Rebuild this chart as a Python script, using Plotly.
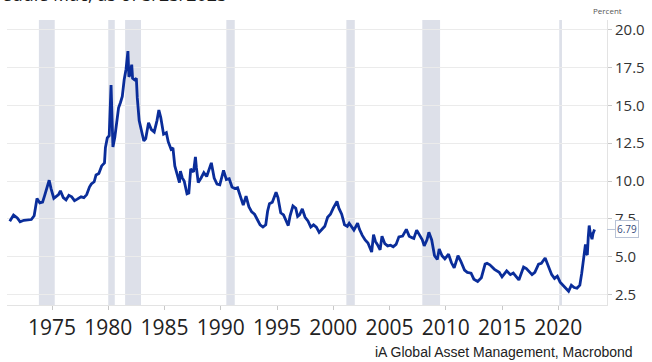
import plotly.graph_objects as go

# 30-year fixed mortgage rate (percent), read as dated observations
dates = [
    "1971-04", "1971-08", "1971-12", "1972-03", "1972-07", "1972-12", "1973-03", "1973-06",
    "1973-08", "1973-09", "1973-12", "1974-03", "1974-05", "1974-08", "1974-10", "1974-12",
    "1975-03", "1975-05", "1975-08", "1975-10", "1976-01", "1976-04", "1976-07", "1976-10",
    "1977-01", "1977-04", "1977-08", "1977-11", "1978-02", "1978-05", "1978-07", "1978-10",
    "1978-12", "1979-03", "1979-06", "1979-09", "1979-10", "1979-12", "1980-02", "1980-04",
    "1980-05", "1980-06", "1980-08", "1980-10", "1980-12", "1981-02", "1981-04", "1981-06",
    "1981-08", "1981-10", "1981-11", "1981-12", "1982-02", "1982-03", "1982-05", "1982-07",
    "1982-08", "1982-10", "1982-12", "1983-03", "1983-05", "1983-08", "1983-11", "1984-02",
    "1984-05", "1984-07", "1984-09", "1984-12", "1985-03", "1985-05", "1985-08", "1985-10",
    "1985-12", "1986-03", "1986-05", "1986-06", "1986-08", "1986-10", "1987-01", "1987-03",
    "1987-05", "1987-08", "1987-10", "1987-11", "1988-01", "1988-04", "1988-07", "1988-10",
    "1989-01", "1989-03", "1989-06", "1989-09", "1989-12", "1990-04", "1990-07", "1990-10",
    "1991-01", "1991-04", "1991-07", "1991-10", "1992-01", "1992-04", "1992-07", "1992-10",
    "1993-01", "1993-04", "1993-07", "1993-10", "1994-01", "1994-03", "1994-05", "1994-08",
    "1994-12", "1995-02", "1995-05", "1995-08", "1995-11", "1996-01", "1996-03", "1996-06",
    "1996-09", "1996-11", "1997-01", "1997-04", "1997-07", "1997-10", "1998-01", "1998-04",
    "1998-07", "1998-10", "1999-01", "1999-04", "1999-07", "1999-10", "2000-01", "2000-05",
    "2000-07", "2000-10", "2001-01", "2001-04", "2001-06", "2001-09", "2001-11", "2002-03",
    "2002-05", "2002-08", "2002-11", "2003-02", "2003-06", "2003-08", "2003-10", "2003-12",
    "2004-03", "2004-05", "2004-08", "2004-11", "2005-02", "2005-05", "2005-08", "2005-11",
    "2006-03", "2006-07", "2006-10", "2007-01", "2007-03", "2007-06", "2007-09", "2007-12",
    "2008-02", "2008-05", "2008-07", "2008-10", "2009-01", "2009-04", "2009-06", "2009-09",
    "2009-12", "2010-04", "2010-07", "2010-10", "2011-02", "2011-05", "2011-09", "2011-12",
    "2012-04", "2012-07", "2012-11", "2013-03", "2013-07", "2013-09", "2013-12", "2014-05",
    "2014-10", "2015-01", "2015-06", "2015-10", "2016-01", "2016-07", "2016-12", "2017-03",
    "2017-09", "2017-12", "2018-04", "2018-07", "2018-11", "2019-03", "2019-06", "2019-09",
    "2019-12", "2020-03", "2020-06", "2020-09", "2020-12", "2021-03", "2021-06", "2021-09",
    "2021-12", "2022-02", "2022-04", "2022-06", "2022-07", "2022-08", "2022-09", "2022-10",
    "2022-11", "2022-12", "2023-01", "2023-02", "2023-03-23",
]
rates = [
    7.33, 7.75, 7.55, 7.30, 7.40, 7.42, 7.45, 7.70,
    8.50, 8.85, 8.55, 8.60, 9.00, 9.70, 10.05, 9.50,
    8.85, 8.95, 9.10, 9.35, 8.90, 8.75, 9.05, 8.95,
    8.70, 8.80, 8.95, 8.90, 9.10, 9.60, 9.80, 9.95,
    10.40, 10.50, 11.00, 11.20, 12.20, 12.85, 13.00, 16.35,
    14.50, 12.25, 12.90, 14.00, 14.85, 15.20, 15.60, 16.70,
    17.40, 18.60, 16.90, 17.00, 17.70, 16.80, 16.70, 16.80,
    15.50, 14.00, 13.40, 12.65, 12.80, 13.85, 13.40, 13.25,
    14.00, 14.70, 14.20, 13.10, 13.20, 12.60, 12.10, 12.20,
    11.00, 10.30, 9.90, 10.65, 10.20, 10.00, 9.15, 9.20,
    10.80, 10.60, 11.60, 10.90, 9.90, 10.20, 10.55, 10.30,
    10.90, 11.20, 10.20, 9.80, 9.75, 10.70, 10.10, 10.15,
    9.60, 9.50, 9.55, 8.90, 8.40, 9.00, 8.30, 7.95,
    7.80, 7.45, 7.10, 6.95, 7.10, 8.00, 8.50, 8.60,
    9.25, 8.90, 7.90, 7.75, 7.30, 7.05, 7.70, 8.35,
    8.20, 7.65, 7.75, 8.15, 7.60, 7.35, 6.95, 7.10,
    6.95, 6.60, 6.80, 7.00, 7.60, 7.80, 8.20, 8.65,
    8.20, 7.80, 7.10, 7.00, 7.20, 6.95, 6.75, 7.20,
    6.80, 6.40, 6.10, 5.90, 5.30, 6.45, 6.00, 5.80,
    5.45, 6.35, 5.85, 5.70, 5.75, 5.65, 5.80, 6.30,
    6.35, 6.80, 6.35, 6.25, 6.20, 6.75, 6.40, 6.10,
    5.70, 6.10, 6.60, 6.10, 5.05, 4.80, 5.50, 5.05,
    4.85, 5.15, 4.60, 4.25, 5.05, 4.70, 4.10, 3.95,
    3.90, 3.50, 3.35, 3.60, 4.50, 4.55, 4.45, 4.15,
    3.95, 3.65, 4.05, 3.80, 3.90, 3.45, 4.30, 4.20,
    3.80, 3.95, 4.50, 4.55, 4.90, 4.30, 3.80, 3.55,
    3.70, 3.30, 3.10, 2.90, 2.70, 3.10, 2.95, 2.90,
    3.10, 3.90, 5.00, 5.80, 5.20, 5.10, 6.30, 7.05,
    6.60, 6.30, 6.15, 6.50, 6.79,
]

# US recessions (start, end)
recessions = [
    ("1973-11-01", "1975-03-31"),
    ("1980-01-01", "1980-07-31"),
    ("1981-07-01", "1982-11-30"),
    ("1990-07-01", "1991-03-31"),
    ("2001-03-01", "2001-11-30"),
    ("2007-12-01", "2009-06-30"),
    ("2020-02-01", "2020-04-30"),
]

y_ticks = [2.5, 5.0, 7.5, 10.0, 12.5, 15.0, 17.5, 20.0]
last_label = f"{rates[-1]:.2f}"

line_color = "#0a2d9a"
band_color = "#dde0e9"
grid_color = "#ebebeb"

fig = go.Figure()
fig.add_trace(go.Scatter(
    x=dates, y=rates, mode="lines",
    line=dict(color=line_color, width=2.8),
    hoverinfo="skip", showlegend=False,
))

for start, end in recessions:
    fig.add_shape(
        type="rect", xref="x", yref="paper",
        x0=start, x1=end, y0=0, y1=1,
        fillcolor=band_color, line=dict(width=0), layer="below",
    )

fig.update_layout(
    width=652, height=362,
    margin=dict(l=7, r=37, t=20, b=57),
    paper_bgcolor="white", plot_bgcolor="white",
    showlegend=False,
    xaxis=dict(
        type="date",
        range=["1971-01-01", "2024-05-01"],
        tick0="1975-01-01", dtick="M60", tickformat="%Y",
        showgrid=False, zeroline=False,
        showline=True, linecolor="#e3e3e3", linewidth=1,
        ticks="outside", ticklen=4, tickcolor="#c8c8c8",
        tickfont=dict(family="Open Sans", size=21, color="#222222"),
    ),
    yaxis=dict(
        side="right",
        range=[1.79, 20.66],
        tickvals=y_ticks,
        ticktext=[f"{v:.1f}" for v in y_ticks],
        showgrid=True, gridcolor=grid_color, gridwidth=1,
        zeroline=False,
        showline=True, linecolor="#e3e3e3", linewidth=1,
        ticks="outside", ticklen=4, tickcolor="#c8c8c8",
        tickfont=dict(family="Open Sans", size=15, color="#333333"),
    ),
)

# Subtitle running off the top edge
fig.add_annotation(
    xref="paper", yref="paper", x=-0.040, y=1.043,
    xanchor="left", yanchor="bottom",
    text="Freddie Mac, as of 3/23/2023", showarrow=False,
    font=dict(family="Open Sans", size=18, color="#1a1a1a"),
)
# Unit label
fig.add_annotation(
    xref="paper", yref="paper", x=1.0, y=1.0,
    xanchor="center", yanchor="bottom", yshift=2,
    text="Percent", showarrow=False,
    font=dict(family="Open Sans", size=8, color="#555555"),
)
# Last value marker
fig.add_annotation(
    xref="paper", yref="y", x=1.0, y=rates[-1],
    text=last_label, showarrow=True, arrowhead=0, arrowwidth=1,
    arrowcolor="#b9c3d6", ax=20, ay=0,
    bordercolor="#b9c3d6", borderwidth=1, borderpad=1, bgcolor="white",
    font=dict(family="Open Sans", size=10, color="#3a4d7c"),
)
# Source
fig.add_annotation(
    xref="paper", yref="paper", x=1.047, y=-0.165,
    xanchor="right", yanchor="middle",
    text="iA Global Asset Management, Macrobond", showarrow=False,
    font=dict(family="Liberation Sans", size=14, color="#222222"),
)

fig.write_html("out.html")
